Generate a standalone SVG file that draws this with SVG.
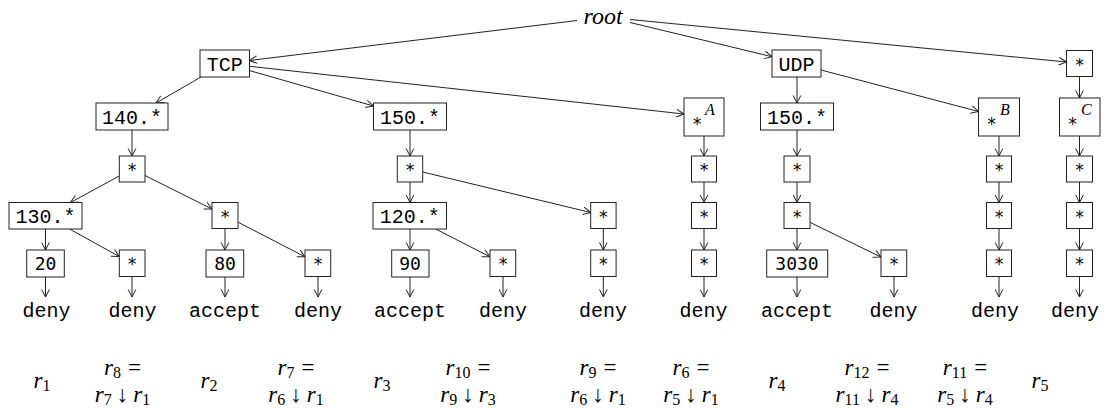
<svg xmlns="http://www.w3.org/2000/svg" width="1104" height="408" viewBox="0 0 1104 408">
<style>
.b{fill:#fff;stroke:#222;stroke-width:1}
.tt{font-family:"Liberation Mono","DejaVu Sans Mono",monospace;font-size:20px;fill:#000;text-anchor:middle}
.num{font-family:"DejaVu Sans Mono","Liberation Mono",monospace;font-size:18px;fill:#000;text-anchor:middle}
.st{font-family:"DejaVu Sans Mono","Liberation Mono",monospace;font-size:17px;fill:#000;text-anchor:middle}
.mi{font-family:"Liberation Serif","DejaVu Serif",serif;font-style:italic;fill:#000}
.lb{font-family:"Liberation Serif","DejaVu Serif",serif;font-size:23px;fill:#000;text-anchor:middle}
.lb .s{font-size:16px}
.lb .i{font-style:italic}
.e{stroke:#222;stroke-width:1;fill:none;marker-end:url(#ah)}
</style>
<defs>
<marker id="ah" markerWidth="10" markerHeight="10" refX="0" refY="0" viewBox="-9 -5 10 10" orient="auto" markerUnits="userSpaceOnUse">
<path d="M-7.5,-3.8 L0,0 L-7.5,3.8" fill="none" stroke="#222" stroke-width="1"/>
</marker>
</defs>
<rect width="1104" height="408" fill="#fff"/>

<g id="connectors">
<line class="e" x1="577" y1="20.5" x2="249.5" y2="60.5"/>
<line class="e" x1="630" y1="22.5" x2="772" y2="56.7"/>
<line class="e" x1="630" y1="19.5" x2="1066.5" y2="62"/>
<line class="e" x1="201" y1="77" x2="156" y2="103"/>
<line class="e" x1="249.5" y1="70.6" x2="373.5" y2="106"/>
<line class="e" x1="249.5" y1="66.3" x2="684" y2="114"/>
<line class="e" x1="797" y1="77" x2="797" y2="103"/>
<line class="e" x1="821" y1="70" x2="978.5" y2="111.5"/>
<line class="e" x1="1079.5" y1="76.5" x2="1079.5" y2="98"/>
<line class="e" x1="132" y1="130" x2="132" y2="156"/>
<line class="e" x1="119.3" y1="176" x2="70.5" y2="202.5"/>
<line class="e" x1="145" y1="175.5" x2="212" y2="209"/>
<line class="e" x1="45.5" y1="229" x2="45.5" y2="250"/>
<line class="e" x1="69.5" y1="229" x2="119.3" y2="256.5"/>
<line class="e" x1="225" y1="228.5" x2="225" y2="250"/>
<line class="e" x1="237.7" y1="222" x2="305" y2="256.8"/>
<line class="e" x1="410" y1="130" x2="410" y2="156"/>
<line class="e" x1="410" y1="182" x2="410" y2="202.5"/>
<line class="e" x1="422.7" y1="172" x2="590.7" y2="212.5"/>
<line class="e" x1="410" y1="229" x2="410" y2="250"/>
<line class="e" x1="435.7" y1="229" x2="490" y2="256.8"/>
<line class="e" x1="603.3" y1="228.5" x2="603.3" y2="250"/>
<line class="e" x1="704" y1="136" x2="704" y2="156"/>
<line class="e" x1="704" y1="182" x2="704" y2="202.5"/>
<line class="e" x1="704" y1="228.5" x2="704" y2="250"/>
<line class="e" x1="797" y1="130" x2="797" y2="156"/>
<line class="e" x1="797" y1="182" x2="797" y2="202.5"/>
<line class="e" x1="797" y1="228.5" x2="797" y2="250"/>
<line class="e" x1="809.3" y1="222" x2="881" y2="257.1"/>
<line class="e" x1="999" y1="136" x2="999" y2="156"/>
<line class="e" x1="999" y1="182" x2="999" y2="202.5"/>
<line class="e" x1="999" y1="228.5" x2="999" y2="250"/>
<line class="e" x1="1079.5" y1="136" x2="1079.5" y2="156"/>
<line class="e" x1="1079.5" y1="182" x2="1079.5" y2="202.5"/>
<line class="e" x1="1079.5" y1="228.5" x2="1079.5" y2="250"/>
<line class="e" x1="45.5" y1="277" x2="45.5" y2="297"/>
<line class="e" x1="132" y1="277" x2="132" y2="297"/>
<line class="e" x1="225" y1="277" x2="225" y2="297"/>
<line class="e" x1="318" y1="277" x2="318" y2="297"/>
<line class="e" x1="410" y1="277" x2="410" y2="297"/>
<line class="e" x1="503" y1="277" x2="503" y2="297"/>
<line class="e" x1="603.3" y1="277" x2="603.3" y2="297"/>
<line class="e" x1="704" y1="277" x2="704" y2="297"/>
<line class="e" x1="797" y1="277" x2="797" y2="297"/>
<line class="e" x1="894" y1="277" x2="894" y2="297"/>
<line class="e" x1="999" y1="277" x2="999" y2="297"/>
<line class="e" x1="1079.5" y1="277" x2="1079.5" y2="297"/>
</g>

<g id="root"><text class="mi" x="603" y="23.5" font-size="24" text-anchor="middle">root</text></g>

<g id="n-tcp"><rect class="b" x="200" y="50" width="49.5" height="27"/><text class="tt" x="224.7" y="70.5">TCP</text></g>
<g id="n-udp"><rect class="b" x="772" y="50" width="49" height="27"/><text class="tt" x="796.5" y="70.5">UDP</text></g>
<g id="n-s0"><rect class="b" x="1066.5" y="50.5" width="26" height="26"/><text class="st" x="1079.5" y="71">*</text></g>

<g id="n-140"><rect class="b" x="96" y="103" width="72" height="27"/><text class="tt" x="132" y="123.5">140.*</text></g>
<g id="n-150a"><rect class="b" x="373.5" y="103" width="73" height="27"/><text class="tt" x="410" y="123.5">150.*</text></g>
<g id="n-sA"><rect class="b" x="684" y="98" width="40" height="38"/><text class="st" x="697" y="130">*</text><text class="mi" x="705" y="115" font-size="16">A</text></g>
<g id="n-150b"><rect class="b" x="760.5" y="103" width="73" height="27"/><text class="tt" x="797" y="123.5">150.*</text></g>
<g id="n-sB"><rect class="b" x="978.5" y="98" width="41" height="38"/><text class="st" x="991.5" y="130">*</text><text class="mi" x="1000" y="115" font-size="16">B</text></g>
<g id="n-sC"><rect class="b" x="1059.5" y="98" width="40.5" height="38"/><text class="st" x="1072.5" y="130">*</text><text class="mi" x="1081" y="115" font-size="16">C</text></g>

<g id="n-r3a"><rect class="b" x="119.3" y="156" width="25.7" height="26"/><text class="st" x="132" y="176">*</text></g>
<g id="n-r3b"><rect class="b" x="397.3" y="156" width="25.4" height="26"/><text class="st" x="410" y="176">*</text></g>
<g id="n-r3c"><rect class="b" x="691.5" y="156" width="25" height="26"/><text class="st" x="704" y="176">*</text></g>
<g id="n-r3d"><rect class="b" x="784" y="156" width="26" height="26"/><text class="st" x="797" y="176">*</text></g>
<g id="n-r3e"><rect class="b" x="986.5" y="156" width="25" height="26"/><text class="st" x="999" y="176">*</text></g>
<g id="n-r3f"><rect class="b" x="1066.5" y="156" width="26" height="26"/><text class="st" x="1079.5" y="176">*</text></g>

<g id="n-130"><rect class="b" x="9" y="202.5" width="73" height="26.5"/><text class="tt" x="45.5" y="223">130.*</text></g>
<g id="n-r4a"><rect class="b" x="212" y="202.5" width="26" height="26"/><text class="st" x="225" y="222.5">*</text></g>
<g id="n-120"><rect class="b" x="373" y="202.5" width="73.5" height="26.5"/><text class="tt" x="409.7" y="223">120.*</text></g>
<g id="n-r4b"><rect class="b" x="590.7" y="202.5" width="25.4" height="26"/><text class="st" x="603.3" y="222.5">*</text></g>
<g id="n-r4c"><rect class="b" x="691.5" y="202.5" width="25" height="26"/><text class="st" x="704" y="222.5">*</text></g>
<g id="n-r4d"><rect class="b" x="784" y="202.5" width="26" height="26"/><text class="st" x="797" y="222.5">*</text></g>
<g id="n-r4e"><rect class="b" x="986.5" y="202.5" width="25" height="26"/><text class="st" x="999" y="222.5">*</text></g>
<g id="n-r4f"><rect class="b" x="1066.5" y="202.5" width="26" height="26"/><text class="st" x="1079.5" y="222.5">*</text></g>

<g id="n-20"><rect class="b" x="26.7" y="250" width="37.6" height="27"/><text class="num" x="45.5" y="270">20</text></g>
<g id="n-r5a"><rect class="b" x="119.3" y="250" width="25.7" height="26.5"/><text class="st" x="132" y="270">*</text></g>
<g id="n-80"><rect class="b" x="206" y="250" width="37.7" height="27"/><text class="num" x="225" y="270">80</text></g>
<g id="n-r5b"><rect class="b" x="305" y="250" width="25.7" height="26.5"/><text class="st" x="318" y="270">*</text></g>
<g id="n-90"><rect class="b" x="391.7" y="250" width="37.3" height="27"/><text class="num" x="410" y="270">90</text></g>
<g id="n-r5c"><rect class="b" x="490" y="250" width="25.7" height="26.5"/><text class="st" x="503" y="270">*</text></g>
<g id="n-r5d"><rect class="b" x="590.7" y="250" width="25.4" height="26.5"/><text class="st" x="603.3" y="270">*</text></g>
<g id="n-r5e"><rect class="b" x="691.5" y="250" width="25" height="26.5"/><text class="st" x="704" y="270">*</text></g>
<g id="n-3030"><rect class="b" x="766.7" y="250" width="61" height="27"/><text class="num" x="797" y="270">3030</text></g>
<g id="n-r5f"><rect class="b" x="881" y="250" width="25.7" height="26.5"/><text class="st" x="894" y="270">*</text></g>
<g id="n-r5g"><rect class="b" x="986.5" y="250" width="25" height="26.5"/><text class="st" x="999" y="270">*</text></g>
<g id="n-r5h"><rect class="b" x="1066.5" y="250" width="26" height="26.5"/><text class="st" x="1079.5" y="270">*</text></g>

<g id="terminals">
<text class="tt" x="46.5" y="317">deny</text>
<text class="tt" x="132.5" y="317">deny</text>
<text class="tt" x="225" y="317">accept</text>
<text class="tt" x="318" y="317">deny</text>
<text class="tt" x="410" y="317">accept</text>
<text class="tt" x="503" y="317">deny</text>
<text class="tt" x="603" y="317">deny</text>
<text class="tt" x="703.5" y="317">deny</text>
<text class="tt" x="797" y="317">accept</text>
<text class="tt" x="893.5" y="317">deny</text>
<text class="tt" x="995" y="317">deny</text>
<text class="tt" x="1075" y="317">deny</text>
</g>

<g id="labels">
<text class="lb" x="42" y="388"><tspan class="i">r</tspan><tspan class="s" dy="3">1</tspan></text>
<text class="lb" x="122.5" y="375"><tspan class="i">r</tspan><tspan class="s" dy="3">8</tspan><tspan dx="7" dy="-3">=</tspan></text>
<text class="lb" x="122.5" y="401.5"><tspan class="i">r</tspan><tspan class="s" dy="3">7</tspan><tspan dx="5" dy="-3">↓</tspan><tspan class="i" dx="5">r</tspan><tspan class="s" dy="3">1</tspan></text>
<text class="lb" x="209" y="388"><tspan class="i">r</tspan><tspan class="s" dy="3">2</tspan></text>
<text class="lb" x="296" y="375"><tspan class="i">r</tspan><tspan class="s" dy="3">7</tspan><tspan dx="7" dy="-3">=</tspan></text>
<text class="lb" x="296" y="401.5"><tspan class="i">r</tspan><tspan class="s" dy="3">6</tspan><tspan dx="5" dy="-3">↓</tspan><tspan class="i" dx="5">r</tspan><tspan class="s" dy="3">1</tspan></text>
<text class="lb" x="382" y="388"><tspan class="i">r</tspan><tspan class="s" dy="3">3</tspan></text>
<text class="lb" x="468" y="375"><tspan class="i">r</tspan><tspan class="s" dy="3">10</tspan><tspan dx="7" dy="-3">=</tspan></text>
<text class="lb" x="468" y="401.5"><tspan class="i">r</tspan><tspan class="s" dy="3">9</tspan><tspan dx="5" dy="-3">↓</tspan><tspan class="i" dx="5">r</tspan><tspan class="s" dy="3">3</tspan></text>
<text class="lb" x="598" y="375"><tspan class="i">r</tspan><tspan class="s" dy="3">9</tspan><tspan dx="7" dy="-3">=</tspan></text>
<text class="lb" x="598" y="401.5"><tspan class="i">r</tspan><tspan class="s" dy="3">6</tspan><tspan dx="5" dy="-3">↓</tspan><tspan class="i" dx="5">r</tspan><tspan class="s" dy="3">1</tspan></text>
<text class="lb" x="691" y="375"><tspan class="i">r</tspan><tspan class="s" dy="3">6</tspan><tspan dx="7" dy="-3">=</tspan></text>
<text class="lb" x="691" y="401.5"><tspan class="i">r</tspan><tspan class="s" dy="3">5</tspan><tspan dx="5" dy="-3">↓</tspan><tspan class="i" dx="5">r</tspan><tspan class="s" dy="3">1</tspan></text>
<text class="lb" x="777" y="388"><tspan class="i">r</tspan><tspan class="s" dy="3">4</tspan></text>
<text class="lb" x="867" y="375"><tspan class="i">r</tspan><tspan class="s" dy="3">12</tspan><tspan dx="7" dy="-3">=</tspan></text>
<text class="lb" x="867" y="401.5"><tspan class="i">r</tspan><tspan class="s" dy="3">11</tspan><tspan dx="5" dy="-3">↓</tspan><tspan class="i" dx="5">r</tspan><tspan class="s" dy="3">4</tspan></text>
<text class="lb" x="965" y="375"><tspan class="i">r</tspan><tspan class="s" dy="3">11</tspan><tspan dx="7" dy="-3">=</tspan></text>
<text class="lb" x="965" y="401.5"><tspan class="i">r</tspan><tspan class="s" dy="3">5</tspan><tspan dx="5" dy="-3">↓</tspan><tspan class="i" dx="5">r</tspan><tspan class="s" dy="3">4</tspan></text>
<text class="lb" x="1040" y="388"><tspan class="i">r</tspan><tspan class="s" dy="3">5</tspan></text>
</g>
</svg>
